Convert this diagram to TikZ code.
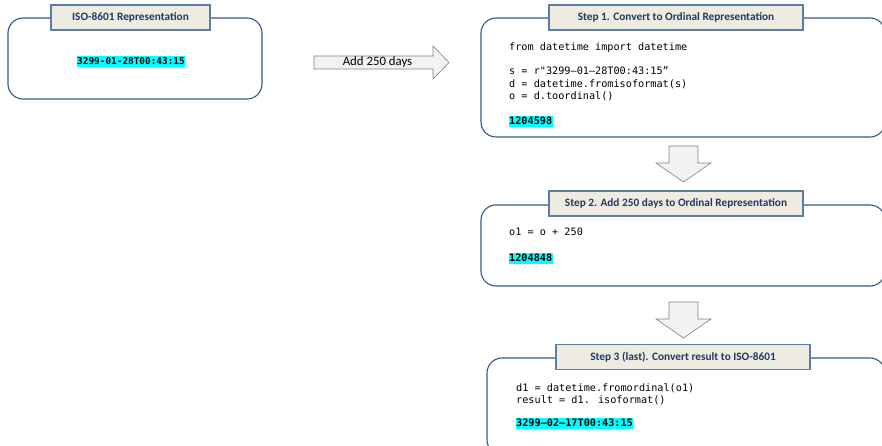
\documentclass[tikz,border=0pt]{standalone}
\usepackage{fontspec}
\setmainfont{Carlito}
\newfontfamily\codefont{DejaVu Sans Mono}
\definecolor{boxblue}{RGB}{50,88,135}
\definecolor{titleedge}{RGB}{95,125,160}
\definecolor{titlefill}{RGB}{238,236,225}
\definecolor{titletext}{RGB}{31,56,100}
\definecolor{hl}{RGB}{0,255,255}
\definecolor{arrowfill}{RGB}{242,242,242}
\definecolor{arrowedge}{RGB}{128,128,128}
\tikzset{
  bigbox/.style={draw=boxblue, line width=1.1pt, rounded corners=15pt, fill=white},
  titlebox/.style={draw=titleedge, line width=1.1pt, fill=titlefill, font=\fontsize{11.3}{13}\selectfont\bfseries, text=titletext, inner sep=0pt},
  codeline/.style={font=\codefont\fontsize{10.2}{12.5}\selectfont, anchor=west, inner sep=0pt, text height=7.5pt, text depth=2pt, align=left},
  hlline/.style={font=\codefont\fontsize{10.2}{12.5}\selectfont\bfseries, fill=hl, inner xsep=0.5pt, inner ysep=1pt, text height=7.5pt, text depth=1.5pt}
}
\tikzset{blockarrow/.style={draw=arrowedge, fill=arrowfill, line width=0.6pt, line join=miter}}
\begin{document}
\begin{tikzpicture}[x=1pt,y=-1pt]
\useasboundingbox (0,0) rectangle (882,446);
\clip (0,0) rectangle (882,446);
% left box
\draw[bigbox] (8,18) rectangle (262,99);
\node[titlebox, minimum width=159pt, minimum height=25pt] (t0) at (130.5,17.5) {ISO-8601 Representation};
\node[hlline, font=\codefont\fontsize{9.4}{11}\selectfont\bfseries] (v0) at (131,62) {3299-01-28T00:43:15};
% add arrow
\draw[blockarrow] (314,56) -- (433,56) -- (433,46) -- (449,62.5) -- (433,79) -- (433,69) -- (314,69) -- cycle;
\node[font=\fontsize{12.8}{14}\selectfont, inner sep=0pt] (add) at (377.5,62.5) {Add 250 days};
% step 1 box
\draw[bigbox] (481,18) rectangle (885,137);
\node[titlebox, minimum width=254pt, minimum height=25pt] (t1) at (676,17.5) {Step 1. Convert to Ordinal Representation};
\node[codeline] (c1a) at (509,48) {from datetime import datetime};
\node[codeline] (c1b) at (509,72) {s = r"3299–01–28T00:43:15”};
\node[codeline] (c1c) at (509,84.5) {d = datetime.fromisoformat(s)};
\node[codeline] (c1d) at (509,97) {o = d.toordinal()};
\node[hlline, anchor=west] (v1) at (508.5,122) {1204598};
% down arrow 1
\draw[blockarrow] (669,146) -- (698,146) -- (698,163) -- (711,163) -- (683.5,182) -- (656,163) -- (669,163) -- cycle;
% step 2 box
\draw[bigbox] (481,205) rectangle (885,286);
\node[titlebox, minimum width=254pt, minimum height=25pt] (t2) at (676,203.5) {Step 2. Add 250 days to Ordinal Representation};
\node[codeline] (c2a) at (509,233) {o1 = o + 250};
\node[hlline, anchor=west] (v2) at (508.5,258) {1204848};
% down arrow 2
\draw[blockarrow] (669,302) -- (698,302) -- (698,319) -- (711,319) -- (683.5,338) -- (656,319) -- (669,319) -- cycle;
% step 3 box
\draw[bigbox] (487,358) rectangle (885,455);
\node[titlebox, minimum width=254pt, minimum height=25pt] (t3) at (683,357) {Step 3 (last). Convert result to ISO-8601};
\node[codeline] (c3a) at (516,389) {d1 = datetime.fromordinal(o1)};
\node[codeline] (c3b) at (516,401) {result = d1. isoformat()};
\node[hlline, anchor=west] (v3) at (515.5,423) {3299–02–17T00:43:15};
\end{tikzpicture}
\end{document}
